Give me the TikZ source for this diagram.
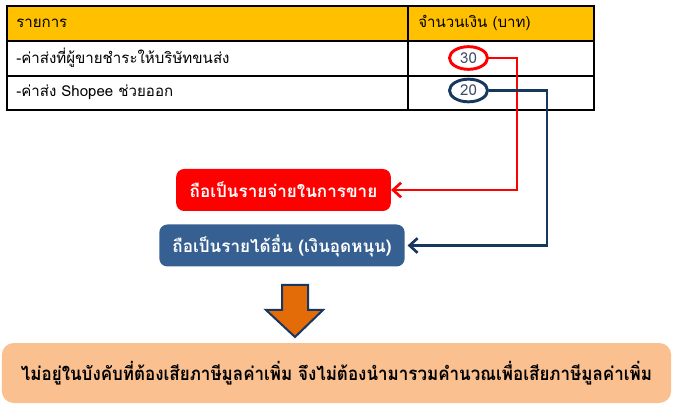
\documentclass[tikz,border=0pt]{standalone}
\usepackage{fontspec}
\newfontfamily\thaifont[Script=Thai]{Loma}
\usetikzlibrary{arrows.meta,positioning,calc,shapes.geometric}
\definecolor{headgold}{HTML}{FFC000}
\definecolor{navyline}{HTML}{17375E}
\definecolor{boxblue}{HTML}{376092}
\definecolor{arroworange}{HTML}{E36C09}
\definecolor{peach}{HTML}{FAC090}
\definecolor{numgray}{HTML}{404A66}

\begin{document}
\begin{tikzpicture}[x=0.75pt, y=-0.75pt, >={Straight Barb[length=6pt,width=11pt]},
  font=\thaifont\fontsize{11.3}{13}\selectfont]
\tikzstyle{cell}=[anchor=west, inner sep=0pt, text=black]
\tikzstyle{amount}=[ellipse, draw, line width=2.2pt, minimum width=28.5pt, minimum height=17pt, inner sep=0pt, text=numgray]
\tikzstyle{link}=[->, line width=2pt]
\tikzstyle{result}=[rounded corners=6pt, text=white, font=\thaifont\bfseries\fontsize{12.8}{14}\selectfont, minimum height=31.5pt]
\useasboundingbox (0,0) rectangle (674,416);

% table
\fill[headgold] (7,6) rectangle (594,41);
\draw[line width=1pt] (7,6) rectangle (594,110);
\draw[line width=1pt] (7,41) -- (594,41) (7,76) -- (594,76) (408,6) -- (408,110);
\node[cell] (item)   at (16,23)  {รายการ};
\node[cell] (amt)    at (418,23) {จำนวนเงิน (บาท)};
\node[cell] (row1)   at (16,58)  {-ค่าส่งที่ผู้ขายชำระให้บริษัทขนส่ง};
\node[cell] (row2)   at (16,92)  {-ค่าส่ง Shopee ช่วยออก};
\node[amount, draw=red]      (v30) at (468.5,58)   {30};
\node[amount, draw=navyline] (v20) at (468.5,90.5) {20};

% boxes
\node[result, fill=red, minimum width=161pt]     (expense) at (283.5,190) {ถือเป็นรายจ่ายในการขาย};
\node[result, fill=boxblue, minimum width=184pt] (income)  at (282,245.5) {ถือเป็นรายได้อื่น (เงินอุดหนุน)};
\node[rounded corners=9pt, fill=peach, minimum width=502pt, minimum height=45pt,
      font=\thaifont\bfseries\fontsize{14}{16}\selectfont\addfontfeature{FakeStretch=0.91}] (vat) at (336.5,373)
      {ไม่อยู่ในบังคับที่ต้องเสียภาษีมูลค่าเพิ่ม จึงไม่ต้องนำมารวมคำนวณเพื่อเสียภาษีมูลค่าเพิ่ม};

\coordinate (redturn)  at (517,59);
\coordinate (blueturn) at (547,88);
\draw[link, red]      (v30.east) -| (expense.east -| redturn) -- (expense.east);
\draw[link, navyline] (v20.east) -| (income.east -| blueturn) -- ([xshift=2pt]income.east);

% down arrow
\draw[line width=1.5pt, draw=navyline, fill=arroworange, line join=miter]
  (282,285) -- (308,285) -- (308,310) -- (323,310) -- (295,337) -- (266,310) -- (282,310) -- cycle;
\end{tikzpicture}
\end{document}
